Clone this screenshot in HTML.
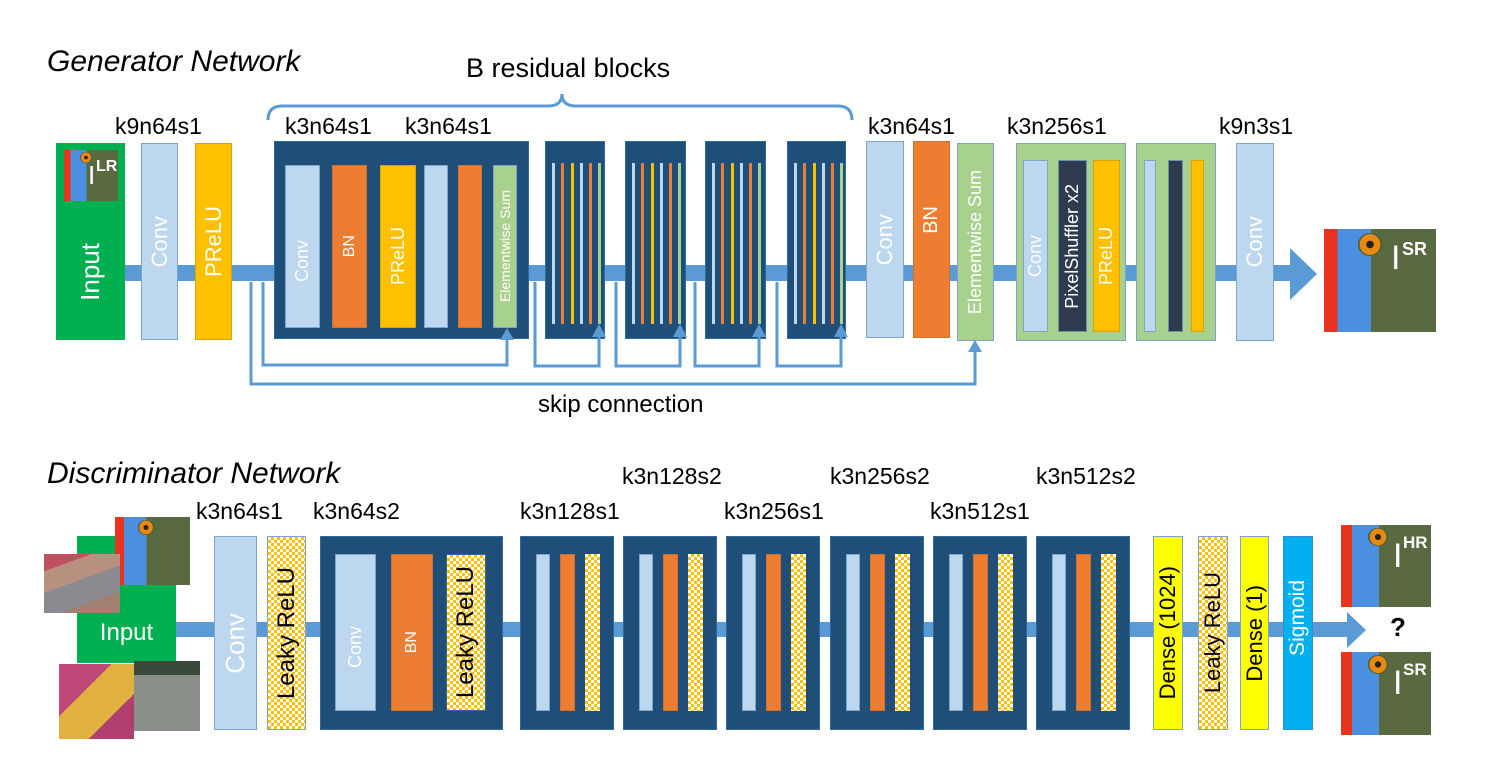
<!DOCTYPE html>
<html><head><meta charset="utf-8"><style>
body{margin:0;background:#fff;}
#c{position:relative;width:1491px;height:768px;overflow:hidden;background:#fff;font-family:"Liberation Sans",sans-serif;}
.b{position:absolute;display:flex;align-items:center;justify-content:center;box-sizing:border-box;}
.v{writing-mode:vertical-rl;transform:rotate(180deg);white-space:nowrap;}
.lb{background:#bdd7ee;border:1.5px solid #7ea6cc;color:#fff;}
.or{background:#ed7d31;border:1px solid #d0702c;color:#fff;}
.ye{background:#ffc000;border:1px solid #d9a300;color:#fff;}
.gr{background:#a9d18e;border:1.5px solid #7fa3c8;color:#fff;}
.dk{background:#1f4e79;border:1px solid #2e6aa0;}
.ck{background-color:#fff;background-image:repeating-conic-gradient(#ffc000 0 25%,#fff 0 50%);background-size:6px 6px;border:1.5px solid #7ea6cc;color:#000;}
.dy{background:#ffff00;border:1.5px solid #7ea6cc;color:#000;}
.t{position:absolute;font-size:23px;color:#000;white-space:nowrap;}
.st{position:absolute;width:3px;}
.img{position:absolute;background:linear-gradient(90deg,#e8331e 0 12%,#4a8fe0 12% 42%,#5a6a40 42% 100%);overflow:hidden;}
.img::before{content:"";position:absolute;left:30%;top:4%;width:22%;height:22%;border-radius:50%;background:radial-gradient(circle,#222 0 20%,#e88a10 25% 60%,#4a5a3a 65%);}
.img span{position:absolute;color:#fff;font-weight:bold;}
</style></head><body><div id="c">
<svg width="1491" height="768" style="position:absolute;left:0;top:0">
<rect x="125" y="265" width="1170" height="16" fill="#5b9bd5"/>
<polygon points="1290,248 1317,274 1290,300" fill="#5b9bd5"/>
<rect x="176" y="622" width="1175" height="15" fill="#5b9bd5"/>
<polygon points="1347,612 1366,630 1347,648" fill="#5b9bd5"/>
<path d="M268,120 Q268,106 282,106 L548,106 Q562,106 562,94 Q562,106 576,106 L838,106 Q852,106 852,120" fill="none" stroke="#5b9bd5" stroke-width="3"/>
</svg>
<div class="t" style="left:47px;top:45px;font-size:30px;font-style:italic">Generator Network</div>
<div class="t" style="left:466px;top:53px;font-size:27px">B residual blocks</div>
<div class="t" style="left:115px;top:113px">k9n64s1</div>
<div class="t" style="left:285px;top:113px">k3n64s1</div>
<div class="t" style="left:405px;top:113px">k3n64s1</div>
<div class="t" style="left:868px;top:113px">k3n64s1</div>
<div class="t" style="left:1007px;top:113px">k3n256s1</div>
<div class="t" style="left:1219px;top:113px">k9n3s1</div>

<div class="b" style="left:56px;top:143px;width:69px;height:197px;background:#00b050;color:#fff;font-size:26px;padding-top:60px"><span class="v">Input</span></div>
<div class="img" style="left:64px;top:150px;width:54px;height:51px"><span style="left:24px;top:10px;font-size:26px;font-weight:normal">I</span><span style="left:32px;top:8px;font-size:16px">LR</span></div>
<div class="b lb" style="left:141px;top:143px;width:37px;height:197px;font-size:22px"><span class="v">Conv</span></div>
<div class="b ye" style="left:195px;top:143px;width:37px;height:197px;font-size:22px"><span class="v">PReLU</span></div>

<div class="b dk" style="left:274px;top:141px;width:255px;height:198px"></div>
<div class="b lb" style="left:285px;top:165px;width:35px;height:163px;font-size:18px;padding-top:30px"><span class="v">Conv</span></div>
<div class="b or" style="left:332px;top:165px;width:35px;height:163px;font-size:16px"><span class="v">BN</span></div>
<div class="b ye" style="left:380px;top:165px;width:36px;height:163px;font-size:18px;padding-top:20px"><span class="v">PReLU</span></div>
<div class="b lb" style="left:424px;top:165px;width:24px;height:163px"></div>
<div class="b or" style="left:458px;top:165px;width:24px;height:163px"></div>
<div class="b gr" style="left:493px;top:165px;width:24px;height:163px;font-size:14px"><span class="v">Elementwise Sum</span></div>

<div class="b dk" style="left:545px;top:141px;width:60px;height:198px"></div>
<div class="b dk" style="left:625px;top:141px;width:61px;height:198px"></div>
<div class="b dk" style="left:705px;top:141px;width:61px;height:198px"></div>
<div class="b dk" style="left:787px;top:141px;width:59px;height:198px"></div>

<div id="stripes"></div>

<div class="b lb" style="left:866px;top:141px;width:38px;height:197px;font-size:22px"><span class="v">Conv</span></div>
<div class="b or" style="left:913px;top:141px;width:37px;height:197px;font-size:20px;padding-bottom:40px"><span class="v">BN</span></div>
<div class="b gr" style="left:957px;top:143px;width:37px;height:198px;font-size:18px"><span class="v">Elementwise Sum</span></div>
<div class="b gr" style="left:1016px;top:143px;width:110px;height:198px"></div>
<div class="b lb" style="left:1023px;top:160px;width:25px;height:172px;font-size:18px;padding-top:20px"><span class="v">Conv</span></div>
<div class="b" style="left:1058px;top:160px;width:29px;height:172px;background:#2e3b4e;border:1px solid #6d8fb0;color:#fff;font-size:18px"><span class="v">PixelShuffler x2</span></div>
<div class="b ye" style="left:1093px;top:160px;width:27px;height:172px;font-size:18px;padding-top:20px"><span class="v">PReLU</span></div>
<div class="b gr" style="left:1136px;top:143px;width:80px;height:198px"></div>
<div class="b lb" style="left:1144px;top:160px;width:12px;height:172px"></div>
<div class="b" style="left:1168px;top:160px;width:15px;height:172px;background:#2e3b4e;border:1px solid #6d8fb0"></div>
<div class="b ye" style="left:1191px;top:160px;width:13px;height:172px"></div>
<div class="b lb" style="left:1236px;top:143px;width:38px;height:198px;font-size:22px"><span class="v">Conv</span></div>
<div class="img" style="left:1324px;top:229px;width:112px;height:103px"><span style="left:67px;top:10px;font-size:34px;font-weight:normal">I</span><span style="left:78px;top:10px;font-size:18px">SR</span></div>

<svg width="1491" height="768" style="position:absolute;left:0;top:0">
<g fill="none" stroke="#5b9bd5" stroke-width="3">
<path d="M263,282 V365 H507 V336"/>
<path d="M251,282 V384 H975 V350"/>
<path d="M535,282 V366 H599 V334"/>
<path d="M616,282 V366 H680 V334"/>
<path d="M695,282 V366 H759 V334"/>
<path d="M777,282 V366 H841 V334"/>
</g>
<g fill="#5b9bd5">
<polygon points="500,340 507,328 514,340"/>
<polygon points="968,352 975,340 982,352"/>
<polygon points="592,337 599,324 606,337"/>
<polygon points="673,337 680,324 687,337"/>
<polygon points="752,337 759,324 766,337"/>
<polygon points="834,337 841,324 848,337"/>
</g>
</svg>
<div class="t" style="left:538px;top:391px;font-size:24px">skip connection</div>

<div class="t" style="left:47px;top:457px;font-size:30px;font-style:italic">Discriminator Network</div>
<div class="t" style="left:196px;top:498px">k3n64s1</div>
<div class="t" style="left:313px;top:498px">k3n64s2</div>
<div class="t" style="left:520px;top:498px">k3n128s1</div>
<div class="t" style="left:622px;top:463px">k3n128s2</div>
<div class="t" style="left:724px;top:498px">k3n256s1</div>
<div class="t" style="left:830px;top:463px">k3n256s2</div>
<div class="t" style="left:930px;top:498px">k3n512s1</div>
<div class="t" style="left:1036px;top:463px">k3n512s2</div>

<div class="b" style="left:77px;top:536px;width:99px;height:127px;background:#00b050;color:#fff;font-size:24px;padding-top:66px">Input</div>
<div class="img" style="left:115px;top:517px;width:75px;height:68px"></div>
<div style="position:absolute;left:44px;top:554px;width:76px;height:59px;background:linear-gradient(160deg,#c05060 0 20%,#b89080 20% 45%,#8a8a90 45% 75%,#a08070 75%)"></div>
<div style="position:absolute;left:134px;top:661px;width:66px;height:70px;background:linear-gradient(180deg,#3a4a3a 0 20%,#8a8f8a 20% 100%)"></div>
<div style="position:absolute;left:59px;top:664px;width:75px;height:75px;background:linear-gradient(135deg,#c04878 0 35%,#e0b040 35% 70%,#b04070 70%)"></div>

<div class="b lb" style="left:214px;top:536px;width:43px;height:194px;font-size:26px;padding-top:20px"><span class="v">Conv</span></div>
<div class="b ck" style="left:267px;top:536px;width:39px;height:194px;font-size:24px"><span class="v">Leaky ReLU</span></div>

<div class="b dk" style="left:320px;top:536px;width:183px;height:194px"></div>
<div class="b lb" style="left:335px;top:554px;width:41px;height:157px;font-size:18px;padding-top:30px"><span class="v">Conv</span></div>
<div class="b or" style="left:391px;top:554px;width:42px;height:157px;font-size:16px;padding-top:20px"><span class="v">BN</span></div>
<div class="b ck" style="left:446px;top:554px;width:40px;height:157px;font-size:24px;border-color:#2e6aa0"><span class="v">Leaky ReLU</span></div>

<div id="dblocks"></div>

<div class="b dy" style="left:1153px;top:536px;width:30px;height:194px;font-size:22px"><span class="v">Dense (1024)</span></div>
<div class="b ck" style="left:1198px;top:536px;width:30px;height:194px;font-size:22px"><span class="v">Leaky ReLU</span></div>
<div class="b dy" style="left:1240px;top:536px;width:29px;height:194px;font-size:22px"><span class="v">Dense (1)</span></div>
<div class="b" style="left:1283px;top:536px;width:30px;height:194px;background:#00b0f0;border:1.5px solid #3a8cc0;color:#fff;font-size:21px;padding-bottom:30px"><span class="v">Sigmoid</span></div>
<div class="img" style="left:1341px;top:525px;width:90px;height:82px"><span style="left:52px;top:12px;font-size:34px;font-weight:normal">I</span><span style="left:62px;top:8px;font-size:17px">HR</span></div>
<div class="t" style="left:1390px;top:612px;font-size:26px;font-weight:bold">?</div>
<div class="img" style="left:1341px;top:652px;width:90px;height:83px"><span style="left:52px;top:12px;font-size:34px;font-weight:normal">I</span><span style="left:62px;top:8px;font-size:17px">SR</span></div>

<script>
var s='',cols=['#bdd7ee','#ed7d31','#ffc000','#bdd7ee','#ed7d31','#a9d18e'],offs=[7,16,26,35,44,53];
[545,625,705,787].forEach(function(x){offs.forEach(function(o,i){s+='<div class="st" style="left:'+(x+o)+'px;top:163px;height:161px;background:'+cols[i]+'"></div>';});});
document.getElementById('stripes').outerHTML=s;
var d='';
[520,623,726,830,933,1036].forEach(function(x){
d+='<div class="b dk" style="left:'+x+'px;top:536px;width:94px;height:194px"></div>';
d+='<div class="b lb" style="left:'+(x+16)+'px;top:554px;width:14px;height:157px"></div>';
d+='<div class="b or" style="left:'+(x+40)+'px;top:554px;width:15px;height:157px"></div>';
d+='<div class="b ck" style="left:'+(x+65)+'px;top:554px;width:15px;height:157px;border:none"></div>';
});
document.getElementById('dblocks').outerHTML=d;
</script>
</div></body></html>
